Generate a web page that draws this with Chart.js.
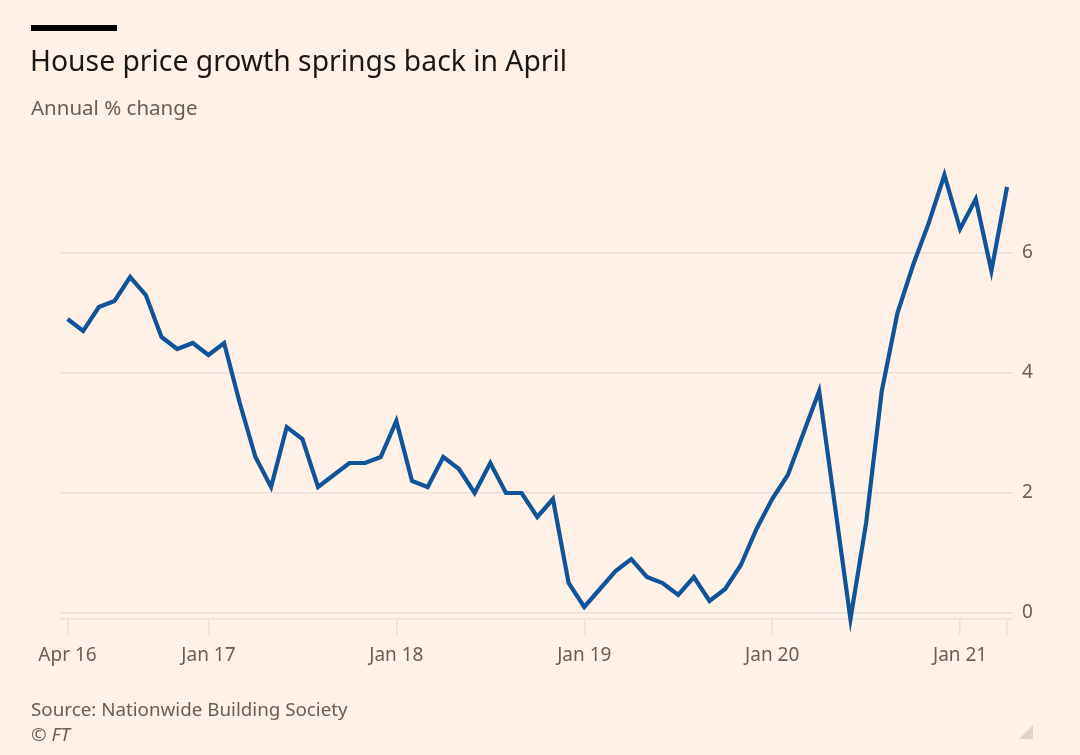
<!DOCTYPE html>
<html>
<head>
<meta charset="utf-8">
<script src="https://cdn.jsdelivr.net/npm/chart.js@4.4.1/dist/chart.umd.min.js"></script>
<style>
  body { margin: 0; background: #fff1e5; }
  #wrap { position: relative; width: 1080px; height: 755px; overflow: hidden; background: #fff1e5; font-family: "Noto Sans", sans-serif; }
  #bar { position: absolute; left: 31px; top: 25px; width: 86px; height: 6px; background: #000; }
  #title { position: absolute; left: 30px; top: 41px; font-size: 28.3px; color: #1a1817; white-space: nowrap; }
  #subtitle { position: absolute; left: 31px; top: 93px; font-size: 20.5px; color: #66605c; white-space: nowrap; }
  #source { position: absolute; left: 31px; top: 696px; font-size: 18.8px; color: #66605c; white-space: nowrap; }
  #copy { position: absolute; left: 31px; top: 721px; font-size: 18.8px; font-style: italic; color: #66605c; white-space: nowrap; }
  #corner { position: absolute; left: 1019px; top: 725px; width: 14px; height: 14px; background: #ddd4cc; clip-path: polygon(100% 0, 100% 100%, 0 100%); }
  canvas { position: absolute; left: 0; top: 0; }
</style>
</head>
<body>
<div id="wrap">
  <canvas id="chart" width="1080" height="755"></canvas>
  <div id="bar"></div>
  <div id="title">House price growth springs back in April</div>
  <div id="subtitle">Annual % change</div>
  <div id="source">Source: Nationwide Building Society</div>
  <div id="copy">© FT</div>
  <div id="corner"></div>
</div>
<script>
// monthly, Apr 2016 - Apr 2021
const months = [
    'Apr 16', 'May 16', 'Jun 16', 'Jul 16', 'Aug 16', 'Sep 16', 'Oct 16', 'Nov 16', 'Dec 16',
    'Jan 17', 'Feb 17', 'Mar 17', 'Apr 17', 'May 17', 'Jun 17', 'Jul 17', 'Aug 17', 'Sep 17', 'Oct 17', 'Nov 17', 'Dec 17',
    'Jan 18', 'Feb 18', 'Mar 18', 'Apr 18', 'May 18', 'Jun 18', 'Jul 18', 'Aug 18', 'Sep 18', 'Oct 18', 'Nov 18', 'Dec 18',
    'Jan 19', 'Feb 19', 'Mar 19', 'Apr 19', 'May 19', 'Jun 19', 'Jul 19', 'Aug 19', 'Sep 19', 'Oct 19', 'Nov 19', 'Dec 19',
    'Jan 20', 'Feb 20', 'Mar 20', 'Apr 20', 'May 20', 'Jun 20', 'Jul 20', 'Aug 20', 'Sep 20', 'Oct 20', 'Nov 20', 'Dec 20',
    'Jan 21', 'Feb 21', 'Mar 21', 'Apr 21'
];

const annualChange = [
    4.9, 4.7, 5.1, 5.2, 5.6, 5.3, 4.6, 4.4, 4.5,
    4.3, 4.5, 3.5, 2.6, 2.1, 3.1, 2.9, 2.1, 2.3, 2.5, 2.5, 2.6,
    3.2, 2.2, 2.1, 2.6, 2.4, 2.0, 2.5, 2.0, 2.0, 1.6, 1.9, 0.5,
    0.1, 0.4, 0.7, 0.9, 0.6, 0.5, 0.3, 0.6, 0.2, 0.4, 0.8, 1.4,
    1.9, 2.3, 3.0, 3.7, 1.8, -0.1, 1.5, 3.7, 5.0, 5.8, 6.5, 7.3,
    6.4, 6.9, 5.7, 7.1
];

const xTickLabels = ['Apr 16', 'Jan 17', 'Jan 18', 'Jan 19', 'Jan 20', 'Jan 21'];
const yTicks = [0, 2, 4, 6];

const gridColour = '#ebe0d7';
const textColour = '#66605c';

// tick positions come from the month list; last month gets an unlabelled tick
const xTickIdx = xTickLabels.map(l => months.indexOf(l)).concat([months.length - 1]);

const points = annualChange.map((v, i) => ({ x: i, y: v }));

new Chart(document.getElementById('chart').getContext('2d'), {
    type: 'line',
    data: {
        datasets: [{
            data: points,
            borderColor: '#0f5499',
            borderWidth: 4.2,
            pointRadius: 0,
            tension: 0,
            clip: false
        }]
    },
    options: {
        responsive: false,
        animation: false,
        layout: { padding: { left: 60, right: 0, top: 157, bottom: 86 } },
        plugins: { legend: { display: false }, tooltip: { enabled: false } },
        scales: {
            x: {
                type: 'linear',
                min: -0.48,
                max: 60.38,
                afterBuildTicks: scale => { scale.ticks = xTickIdx.map(v => ({ value: v })); },
                afterFit: scale => { scale.height = 50; },
                ticks: {
                    autoSkip: false,
                    maxRotation: 0,
                    padding: 9,
                    color: textColour,
                    font: { family: 'Noto Sans', size: 19 },
                    callback: v => {
                        const l = months[v];
                        return xTickLabels.includes(l) ? l : '';
                    }
                },
                grid: { drawOnChartArea: false, drawTicks: true, tickLength: 16, color: gridColour, lineWidth: 1.5 },
                border: { display: true, color: gridColour, width: 1.5 }
            },
            y: {
                position: 'right',
                min: -0.1,
                max: 7.6,
                afterBuildTicks: scale => { scale.ticks = yTicks.map(v => ({ value: v })); },
                afterFit: scale => { scale.width = 67; },
                ticks: {
                    padding: 9,
                    color: textColour,
                    font: { family: 'Noto Sans', size: 19 }
                },
                grid: { drawTicks: false, color: gridColour, lineWidth: 1.5 },
                border: { display: false }
            }
        }
    }
});
</script>
</body>
</html>
